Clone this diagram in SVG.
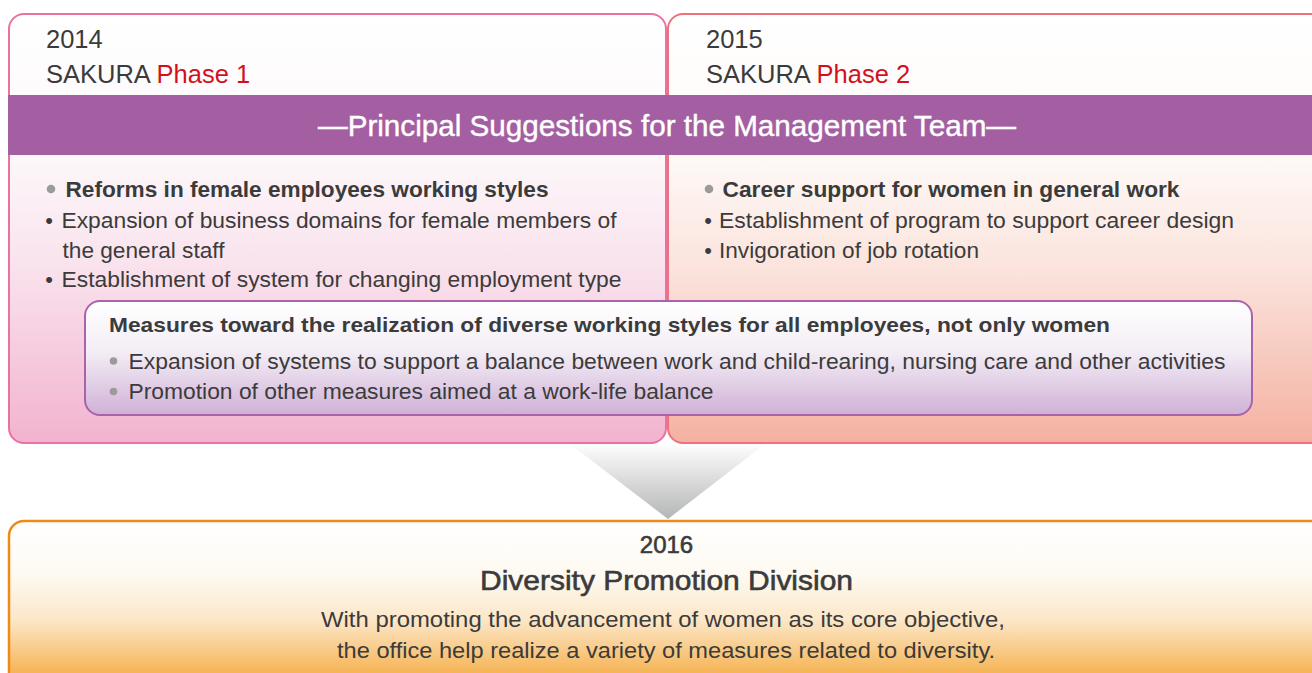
<svg xmlns="http://www.w3.org/2000/svg" width="1312" height="673" viewBox="0 0 1312 673">
  <defs>
    <linearGradient id="gPhase1" gradientUnits="userSpaceOnUse" x1="0" y1="14" x2="0" y2="443">
      <stop offset="0" stop-color="#ffffff"/>
      <stop offset="0.33" stop-color="#fdf8fa"/>
      <stop offset="0.6" stop-color="#f9e1ec"/>
      <stop offset="1" stop-color="#f2b3cf"/>
    </linearGradient>
    <linearGradient id="gPhase2" gradientUnits="userSpaceOnUse" x1="0" y1="14" x2="0" y2="443">
      <stop offset="0" stop-color="#ffffff"/>
      <stop offset="0.33" stop-color="#fef9f7"/>
      <stop offset="0.6" stop-color="#fbe3dc"/>
      <stop offset="1" stop-color="#f4b1a1"/>
    </linearGradient>
    <linearGradient id="gMeasures" gradientUnits="userSpaceOnUse" x1="0" y1="301" x2="0" y2="415">
      <stop offset="0" stop-color="#ffffff"/>
      <stop offset="0.45" stop-color="#f3edf5"/>
      <stop offset="1" stop-color="#d0b1d6"/>
    </linearGradient>
    <linearGradient id="gArrow" gradientUnits="userSpaceOnUse" x1="0" y1="443" x2="0" y2="519">
      <stop offset="0" stop-color="#ffffff"/>
      <stop offset="1" stop-color="#b4b5b5"/>
    </linearGradient>
    <linearGradient id="gDivision" gradientUnits="userSpaceOnUse" x1="0" y1="521" x2="0" y2="673">
      <stop offset="0" stop-color="#ffffff"/>
      <stop offset="0.35" stop-color="#fefaf2"/>
      <stop offset="0.65" stop-color="#fce7c8"/>
      <stop offset="1" stop-color="#f6b455"/>
    </linearGradient>
  </defs>
  <style>
    text { font-family: "Liberation Sans", Arial, sans-serif; fill: #3b3b3b; }
    .yr { font-size: 25.5px; }
    .red { fill: #d3111c; }
    .head { font-size: 21.5px; font-weight: bold; }
    .item { font-size: 22px; }
    .band { font-size: 29px; fill: #ffffff; stroke: #ffffff; stroke-width: 0.4px; }
    .med { stroke: #3b3b3b; stroke-width: 0.6px; }
    .dot { fill: #9b9b9b; }
  </style>

  <!-- 2014: SAKURA Phase 1 -->
  <g id="phase1">
    <rect x="9" y="14" width="657" height="429" rx="15" fill="url(#gPhase1)" stroke="#ea71a0" stroke-width="2"/>
    <text class="yr" x="46" y="48">2014</text>
    <text class="yr" x="46" y="83">SAKURA <tspan class="red">Phase 1</tspan></text>
    <circle class="dot" cx="51" cy="189" r="4.3"/>
    <text class="head" x="65.5" y="197" textLength="483" lengthAdjust="spacingAndGlyphs">Reforms in female employees working styles</text>
    <text class="item" x="49" y="227.5" text-anchor="middle">•</text>
    <text class="item" x="61.5" y="227.5" textLength="555" lengthAdjust="spacingAndGlyphs">Expansion of business domains for female members of</text>
    <text class="item" x="62.5" y="257.5" textLength="162" lengthAdjust="spacingAndGlyphs">the general staff</text>
    <text class="item" x="49" y="287" text-anchor="middle">•</text>
    <text class="item" x="61.5" y="287" textLength="560" lengthAdjust="spacingAndGlyphs">Establishment of system for changing employment type</text>
  </g>

  <!-- 2015: SAKURA Phase 2 -->
  <g id="phase2">
    <rect x="668" y="14" width="680" height="429" rx="15" fill="url(#gPhase2)" stroke="#ee717e" stroke-width="2"/>
    <text class="yr" x="706" y="48">2015</text>
    <text class="yr" x="706" y="83">SAKURA <tspan class="red">Phase 2</tspan></text>
    <circle class="dot" cx="709" cy="189" r="4.3"/>
    <text class="head" x="722.5" y="197" textLength="457" lengthAdjust="spacingAndGlyphs">Career support for women in general work</text>
    <text class="item" x="708" y="227.5" text-anchor="middle">•</text>
    <text class="item" x="719" y="227.5" textLength="515" lengthAdjust="spacingAndGlyphs">Establishment of program to support career design</text>
    <text class="item" x="708" y="258" text-anchor="middle">•</text>
    <text class="item" x="719" y="258" textLength="260" lengthAdjust="spacingAndGlyphs">Invigoration of job rotation</text>
  </g>

  <!-- heading band across both phases -->
  <g id="band">
    <rect x="8" y="95" width="1306" height="60" fill="#a45fa2"/>
    <text class="band" x="318" y="136" textLength="698" lengthAdjust="spacingAndGlyphs">—Principal Suggestions for the Management Team—</text>
  </g>

  <!-- shared measures panel -->
  <g id="measures">
    <rect x="85" y="301" width="1167" height="114" rx="15" fill="url(#gMeasures)" stroke="#a963ab" stroke-width="2"/>
    <text class="head" x="109" y="331.5" textLength="1001" lengthAdjust="spacingAndGlyphs" style="font-size:20.5px">Measures toward the realization of diverse working styles for all employees, not only women</text>
    <circle class="dot" cx="113.5" cy="361" r="3.8"/>
    <text class="item" x="128.5" y="368.5" textLength="1097" lengthAdjust="spacingAndGlyphs">Expansion of systems to support a balance between work and child-rearing, nursing care and other activities</text>
    <circle class="dot" cx="113.5" cy="391.5" r="3.8"/>
    <text class="item" x="128.5" y="398.5" textLength="585" lengthAdjust="spacingAndGlyphs">Promotion of other measures aimed at a work-life balance</text>
  </g>

  <!-- flow from the phases to the division -->
  <g id="connectors">
    <polygon points="570,444 765,444 668,519" fill="url(#gArrow)"/>
  </g>

  <!-- 2016: Diversity Promotion Division -->
  <g id="division">
    <rect x="9" y="521" width="1340" height="170" rx="15" fill="url(#gDivision)" stroke="#ef8a18" stroke-width="2.5"/>
    <text class="yr med" x="666.5" y="553" text-anchor="middle" style="font-size:24px">2016</text>
    <text class="med" x="480" y="590" textLength="373" lengthAdjust="spacingAndGlyphs" style="font-size:28px">Diversity Promotion Division</text>
    <text class="item" x="321" y="627" textLength="684" lengthAdjust="spacingAndGlyphs">With promoting the advancement of women as its core objective,</text>
    <text class="item" x="337" y="658" textLength="658" lengthAdjust="spacingAndGlyphs">the office help realize a variety of measures related to diversity.</text>
  </g>
</svg>
